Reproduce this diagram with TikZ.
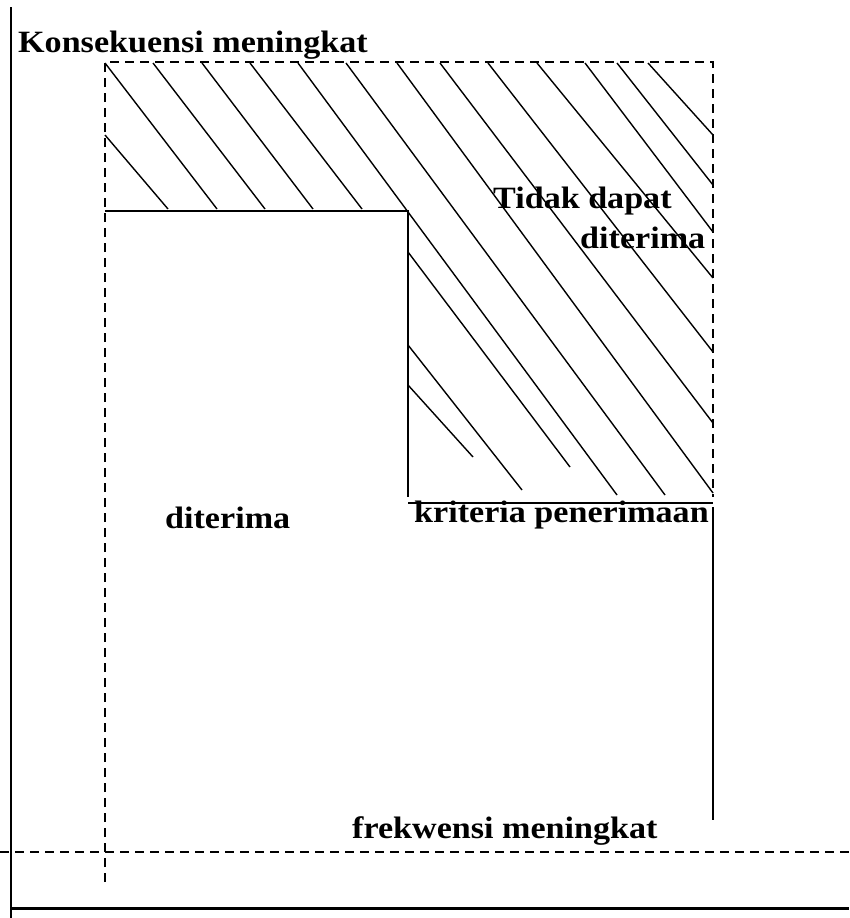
\documentclass[tikz,border=0pt]{standalone}
\usepackage{fontspec}
\newfontfamily\lblfont{Liberation Serif}[FakeStretch=1.1]
\begin{document}
\begin{tikzpicture}[x=1pt,y=-1pt,
  hatch/.style={line width=1.4pt},
  frame/.style={line width=1.4pt,dash pattern=on 9pt off 6pt},
  edge/.style={line width=2pt},
  axis/.style={line width=2pt},
  lbl/.style={inner sep=0pt,font=\lblfont\bfseries\fontsize{31}{36}\selectfont}]
\useasboundingbox (0,0) rectangle (849,918);

% axes
\draw[axis] (11,7) -- (11,918);
\draw[line width=3pt] (11,908) -- (849,908);

% dashed frame
\draw[frame] (0,852) -- (849,852);
\draw[frame] (105,882) -- (105,62) -- (713,62) -- (713,497);

% hatching of the unacceptable region
\foreach \xa/\ya/\xb/\yb in {
  105/63/217/209, 153/63/265/209, 202/63/313/209, 250/63/362/209,
  298/63/617/495, 346/63/665/495, 397/63/713/493, 440/63/713/423,
  488/63/713/352, 537/63/713/278, 585/63/713/232, 617/63/713/185,
  648/63/713/135, 105/135/168/209,
  408/252/570/467, 408/345/522/490, 408/385/473/457}
  \draw[hatch] (\xa,\ya) -- (\xb,\yb);

% acceptance boundary
\draw[edge] (105,211) -- (408,211) -- (408,497);
\draw[edge] (408,503) -- (713,503);
\draw[edge] (713,507) -- (713,820);

% labels
\node[lbl,anchor=base west] (kons) at (18,52) {Konsekuensi meningkat};
\node[lbl,anchor=base west] (tidak) at (493,208) {Tidak dapat};
\node[lbl,anchor=base west] (diterimaR) at (580,248) {diterima};
\node[lbl,anchor=base west] (diterimaL) at (165,528) {diterima};
\node[lbl,anchor=base west] (krit) at (414,522) {kriteria penerimaan};
\node[lbl,anchor=base west] (frek) at (352,838) {frekwensi meningkat};
\end{tikzpicture}
\end{document}
